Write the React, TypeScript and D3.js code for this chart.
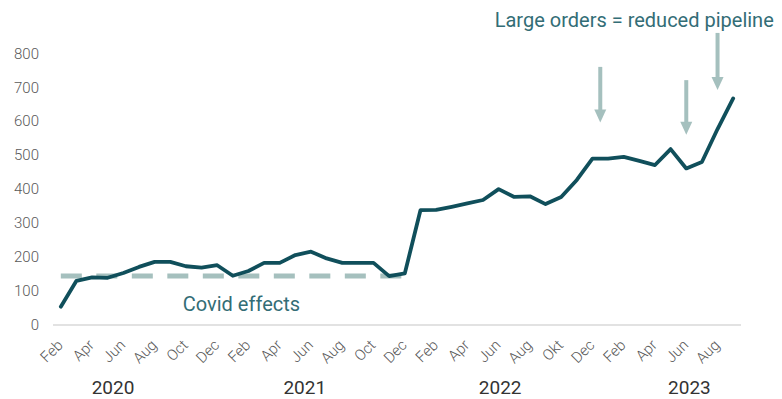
import React from "react";
import * as d3 from "d3";

const months = [
  "Feb 2020","Mar 2020","Apr 2020","May 2020","Jun 2020","Jul 2020","Aug 2020","Sep 2020","Oct 2020","Nov 2020","Dec 2020",
  "Jan 2021","Feb 2021","Mar 2021","Apr 2021","May 2021","Jun 2021","Jul 2021","Aug 2021","Sep 2021","Oct 2021","Nov 2021","Dec 2021",
  "Jan 2022","Feb 2022","Mar 2022","Apr 2022","May 2022","Jun 2022","Jul 2022","Aug 2022","Sep 2022","Okt 2022","Nov 2022","Dec 2022",
  "Jan 2023","Feb 2023","Mar 2023","Apr 2023","May 2023","Jun 2023","Jul 2023","Aug 2023","Sep 2023",
];
const monthLabels = months.map((m) => m.split(" ")[0]);

const values = [
  54, 130, 140, 139, 153, 171, 186, 186, 173, 169, 176,
  145, 159, 183, 183, 206, 216, 196, 183, 183, 183, 144, 152,
  338, 339, 348, 358, 368, 400, 377, 379, 356, 377, 427, 490,
  490, 495, 483, 471, 518, 461, 480, 577, 667,
];

const covidLevel = 144;
const covidRange = ["Feb 2020", "Dec 2021"];

const yTicks = [0, 100, 200, 300, 400, 500, 600, 700, 800];

const years = ["2020", "2021", "2022", "2023"];
const yearPos = [3.34, 15.6, 28.1, 40.2];

const arrows = [
  { pos: 34.5, top: 760, tip: 596 },
  { pos: 40, top: 721, tip: 560 },
  { pos: 42, top: 860, tip: 692 },
];

const W = 782;
const H = 399;

export default function App() {
  const x = d3.scalePoint<string>().domain(months).range([53, 741]).padding(0.5);
  const xi = d3.scaleLinear().domain([0, months.length - 1]).range([x(months[0])!, x(months[months.length - 1])!]);
  const y = d3.scaleLinear().domain([0, 800]).range([325, 53.3]);

  const line = d3
    .line<number>()
    .x((_, i) => x(months[i])!)
    .y((d) => y(d));

  const covidLine = d3
    .line<string>()
    .x((m) => x(m)!)
    .y(() => y(covidLevel));

  const teal = "#104f5b";
  const light = "#a5c0be";
  const textTeal = "#336d76";
  const font = "Roboto, 'Noto Sans', sans-serif";

  return (
    <svg width={W} height={H} style={{ position: "absolute", left: 0, top: 0 }} fontFamily={font}>
      <rect width={W} height={H} fill="#fff" />
      {/* baseline */}
      <line x1={53} x2={741} y1={y(0)} y2={y(0)} stroke="#d9d9d9" strokeWidth={1.5} />
      {/* y tick labels */}
      {yTicks.map((t) => (
        <text key={t} x={39} y={y(t)} dy="0.35em" textAnchor="end" fontSize={15} fontWeight={300} fill="#595959">
          {t}
        </text>
      ))}
      {/* month labels */}
      {months.map((m, i) =>
        i % 2 === 0 ? (
          <text
            key={m}
            transform={`translate(${x(m)! + 3},${346}) rotate(-45)`}
            textAnchor="end"
            fontSize={15}
            fontWeight={300}
            fill="#595959"
          >
            {monthLabels[i]}
          </text>
        ) : null
      )}
      {/* year labels */}
      {years.map((yr, i) => (
        <text key={yr} x={xi(yearPos[i])} y={394} textAnchor="middle" fontSize={19} fill="#333">
          {yr}
        </text>
      ))}
      {/* covid dashed line */}
      <path
        d={covidLine(covidRange) || ""}
        fill="none"
        stroke={light}
        strokeWidth={5}
        strokeDasharray="21 14.5"
      />
      {/* main line */}
      <path d={line(values) || ""} fill="none" stroke={teal} strokeWidth={3.8} strokeLinejoin="round" strokeLinecap="round" />
      {/* arrows */}
      {arrows.map((a, i) => {
        const ax = xi(a.pos);
        const top = y(a.top);
        const tip = y(a.tip);
        return (
          <g key={i}>
            <line x1={ax} x2={ax} y1={top} y2={tip - 10} stroke={light} strokeWidth={4} />
            <path d={`M${ax - 6},${tip - 13}L${ax + 6},${tip - 13}L${ax},${tip}Z`} fill={light} />
          </g>
        );
      })}
      <text x={xi(27.75)} y={y(877)} fontSize={20} fill={textTeal}>
        Large orders = reduced pipeline
      </text>
      <text x={xi(7.8)} y={y(42)} fontSize={20} fill={textTeal}>
        Covid effects
      </text>
    </svg>
  );
}
